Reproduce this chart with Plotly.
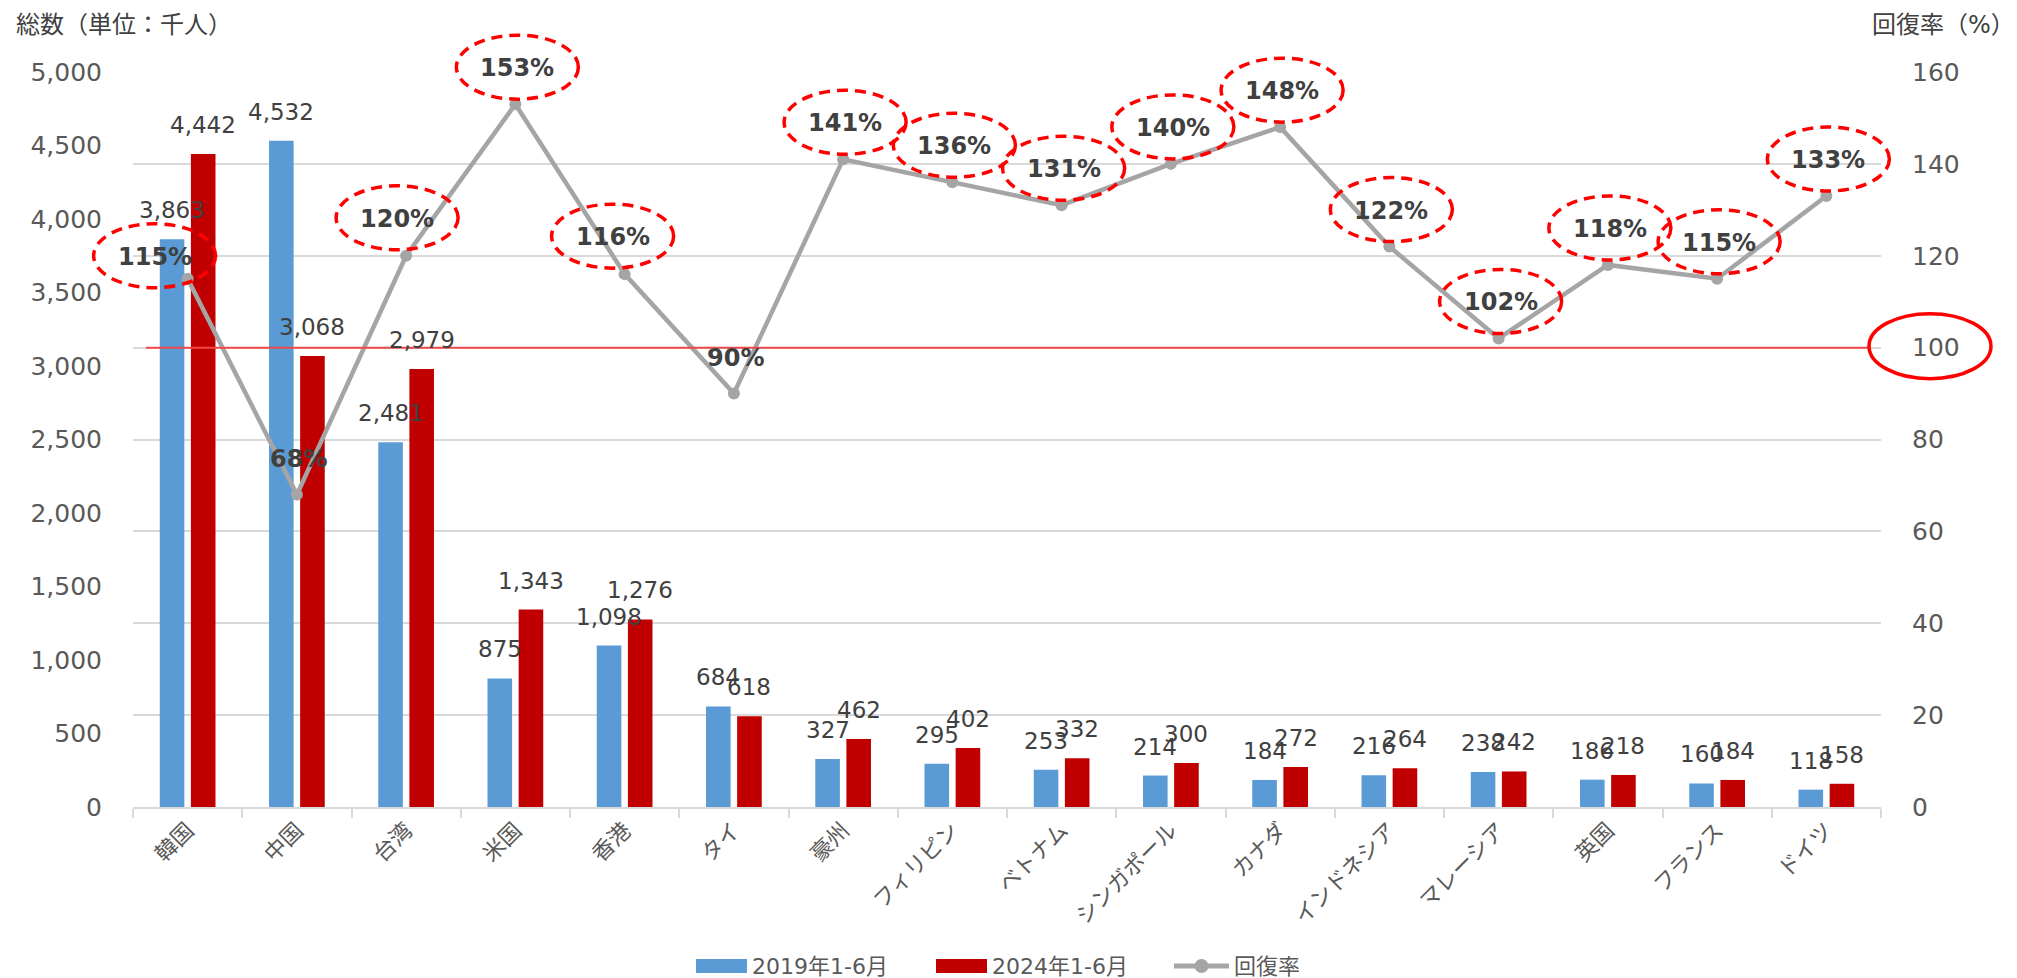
import plotly.graph_objects as go

# ---------------- data ----------------
categories = ["韓国", "中国", "台湾", "米国", "香港", "タイ", "豪州", "フィリピン",
              "ベトナム", "シンガポール", "カナダ", "インドネシア", "マレーシア",
              "英国", "フランス", "ドイツ"]
visitors_2019 = [3863, 4532, 2481, 875, 1098, 684, 327, 295, 253, 214, 184, 216, 238, 186, 160, 118]
visitors_2024 = [4442, 3068, 2979, 1343, 1276, 618, 462, 402, 332, 300, 272, 264, 242, 218, 184, 158]
recovery = [115, 68, 120, 153, 116, 90, 141, 136, 131, 140, 148, 122, 102, 118, 115, 133]
series_names = ["2019年1-6月", "2024年1-6月", "回復率"]
y1_ticks = list(range(0, 5001, 500))
y2_ticks = list(range(0, 161, 20))
not_circled = ["中国", "タイ"]

# ---------------- style ----------------
W, H = 2017, 978
L, R, T, B = 125, 144, 64, 179
PW, PH = W - L - R, H - T - B
FONT = "DejaVu Sans, Noto Sans CJK JP, sans-serif"
BLUE, RED, GREY = "#5B9BD5", "#C00000", "#A5A5A5"
TICK_C, LABEL_C = "#595959", "#404040"
Y1_RANGE = [0, 5000]
Y2_RANGE = [0, 160]
N = len(categories)
X_RANGE = [-0.5, N - 0.5]

# manual pixel nudges of the % labels (dx, dy), default otherwise
pct_nudge = {"韓国": (-33, 22), "台湾": (-9, 37), "香港": (-12, 37)}
PCT_DEFAULT = (2, 36)
BAR_HALF = 15.5  # half of a bar slot in px


def px_x(px):
    return (px - L) / PW


def px_y(py):
    return (H - B - py) / PH


def cat_to_paper(i):
    return (i - X_RANGE[0]) / (X_RANGE[1] - X_RANGE[0])


def y2_to_paper(v):
    return (v - Y2_RANGE[0]) / (Y2_RANGE[1] - Y2_RANGE[0])


fig = go.Figure()
fig.add_trace(go.Bar(x=categories, y=visitors_2019, name=series_names[0],
                     marker=dict(color=BLUE, line=dict(width=0))))
fig.add_trace(go.Bar(x=categories, y=visitors_2024, name=series_names[1],
                     marker=dict(color=RED, line=dict(width=0))))
fig.add_trace(go.Scatter(x=categories, y=recovery, name=series_names[2], yaxis="y2",
                         mode="lines+markers",
                         line=dict(color=GREY, width=4.5),
                         marker=dict(color=GREY, size=12)))

annotations = []
shapes = []

# bar value labels
for cat, v1, v2 in zip(categories, visitors_2019, visitors_2024):
    for v, dx in ((v1, -BAR_HALF), (v2, BAR_HALF)):
        annotations.append(dict(x=cat, y=v, xref="x", yref="y", text=f"{v:,}",
                                showarrow=False, xshift=dx, yshift=29,
                                xanchor="center", yanchor="middle",
                                font=dict(family=FONT, size=23, color=LABEL_C)))

# recovery labels + dashed ellipses
for i, (cat, r) in enumerate(zip(categories, recovery)):
    dx, dy = pct_nudge.get(cat, PCT_DEFAULT)
    annotations.append(dict(x=cat, y=r, xref="x", yref="y2", text=f"<b>{r}%</b>",
                            showarrow=False, xshift=dx, yshift=dy,
                            xanchor="center", yanchor="middle",
                            font=dict(family=FONT, size=24, color=LABEL_C)))
    if cat not in not_circled:
        shapes.append(dict(type="circle", xref="paper", yref="paper",
                           xsizemode="pixel", ysizemode="pixel",
                           xanchor=cat_to_paper(i), yanchor=y2_to_paper(r),
                           x0=dx - 61, x1=dx + 61, y0=dy - 31, y1=dy + 33,
                           line=dict(color="#FF0000", width=3.5, dash="11px,7px"),
                           layer="above"))

# 100% reference line and circle around the "100" tick
shapes.append(dict(type="line", xref="paper", yref="paper",
                   x0=px_x(138), x1=px_x(1861),
                   y0=y2_to_paper(100), y1=y2_to_paper(100),
                   line=dict(color="#F04848", width=2), layer="above"))
shapes.append(dict(type="circle", xref="paper", yref="paper",
                   xsizemode="pixel", ysizemode="pixel",
                   xanchor=1, yanchor=y2_to_paper(100),
                   x0=-12, x1=110, y0=-31, y1=34,
                   line=dict(color="#FF0000", width=3.5), layer="above"))

# axis titles
annotations.append(dict(x=px_x(6), y=px_y(17), xref="paper", yref="paper",
                        text="総数（単位：千人）", showarrow=False,
                        xanchor="left", yanchor="middle",
                        font=dict(family=FONT, size=24, color=LABEL_C)))
annotations.append(dict(x=px_x(1862), y=px_y(17), xref="paper", yref="paper",
                        text="回復率（%）", showarrow=False,
                        xanchor="left", yanchor="middle",
                        font=dict(family=FONT, size=24, color=LABEL_C)))

# custom legend (wide swatches as in the original)
LEG_Y = 958
legend_items = [
    ("bar", BLUE, 688, 739, series_names[0]),
    ("bar", RED, 928, 979, series_names[1]),
    ("line", GREY, 1166, 1221, series_names[2]),
]
for kind, col, xa, xb, name in legend_items:
    if kind == "bar":
        shapes.append(dict(type="rect", xref="paper", yref="paper",
                           x0=px_x(xa), x1=px_x(xb),
                           y0=px_y(LEG_Y + 7), y1=px_y(LEG_Y - 7),
                           fillcolor=col, line=dict(width=0), layer="above"))
    else:
        shapes.append(dict(type="line", xref="paper", yref="paper",
                           x0=px_x(xa), x1=px_x(xb), y0=px_y(LEG_Y), y1=px_y(LEG_Y),
                           line=dict(color=col, width=5), layer="above"))
        xm = (xa + xb) / 2
        shapes.append(dict(type="circle", xref="paper", yref="paper",
                           x0=px_x(xm - 7), x1=px_x(xm + 7),
                           y0=px_y(LEG_Y + 7), y1=px_y(LEG_Y - 7),
                           fillcolor=col, line=dict(width=0), layer="above"))
    annotations.append(dict(x=px_x(xb + 3), y=px_y(LEG_Y), xref="paper", yref="paper",
                            text=name, showarrow=False, xanchor="left", yanchor="middle",
                            font=dict(family=FONT, size=22, color=TICK_C)))

fig.update_layout(
    width=W, height=H,
    margin=dict(l=L, r=R, t=T, b=B, autoexpand=False),
    paper_bgcolor="white", plot_bgcolor="white",
    barmode="group", bargap=0.43, bargroupgap=0.21,
    font=dict(family=FONT, color=TICK_C),
    showlegend=False,
    xaxis=dict(type="category", range=X_RANGE, showgrid=False, showline=True,
               linecolor="#D9D9D9", linewidth=1.5,
               ticks="outside", tickson="boundaries", ticklen=9,
               tickcolor="#D9D9D9", tickwidth=1.5, tickangle=-45,
               tickfont=dict(family=FONT, size=22, color=TICK_C)),
    yaxis=dict(range=Y1_RANGE, tickvals=y1_ticks, tickformat=",",
               showgrid=False, zeroline=False, showline=False,
               ticklabelstandoff=30,
               tickfont=dict(family=FONT, size=25, color=TICK_C)),
    yaxis2=dict(range=Y2_RANGE, tickvals=y2_ticks, overlaying="y", side="right",
                showgrid=True, gridcolor="#D9D9D9", gridwidth=1.5,
                zeroline=False, showline=False, ticklabelstandoff=30,
                tickfont=dict(family=FONT, size=25, color=TICK_C)),
    annotations=annotations,
    shapes=shapes,
)

fig.write_html("out.html")
